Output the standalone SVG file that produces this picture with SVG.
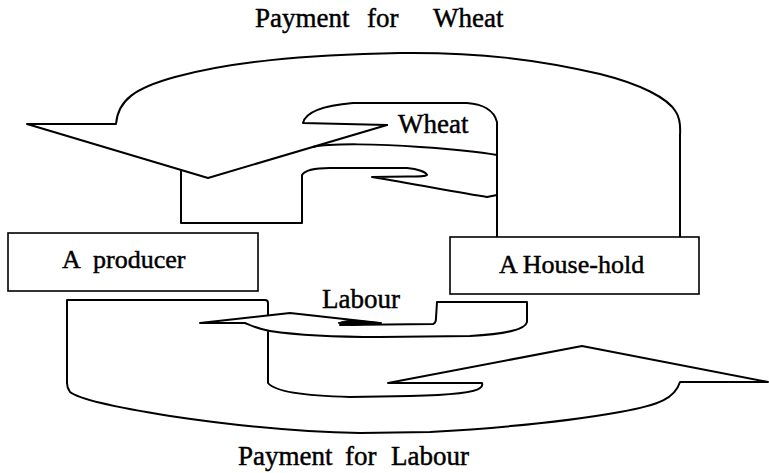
<svg xmlns="http://www.w3.org/2000/svg" width="769" height="473" viewBox="0 0 769 473">
<style>
.ln{fill:none;stroke:#000;stroke-width:2;stroke-linejoin:round;stroke-linecap:round}
.bx{fill:#fff;stroke:#000;stroke-width:1.6}
.t{font-family:"Liberation Serif","Times New Roman",serif;fill:#000;stroke:#000;stroke-width:0.45}
</style>
<rect width="769" height="473" fill="#fff"/>
<g id="connectors">
  <g id="payment-for-wheat">
    <path class="ln" d="M497,242 L680,242 L680,135 Q681,120 676,112 C668,98 640,84 600,74 C540,60 480,52 400,53 C300,55 230,62 175,77 C135,88 118,100 116,124 L27,124 L208,178 L387,125"/>
    <path class="ln" d="M313,147 C330,143 380,144 420,147 C450,149 480,152 497,155"/>
  </g>
  <g id="wheat">
    <path class="ln" d="M387,125 L303,123 C305,114 318,106 353,103 L467,103 C482,104 494,110 497,122 L497,242"/>
    <path class="ln" d="M181,170 L181,223 L302,223 L302,175 C305,170 315,168 330,168 L407,168 C418,169 426,172 427,175 C424,177 420,176 372,177 C420,185 460,193 487,197 L497,195"/>
  </g>
  <g id="labour">
    <path class="ln" d="M268,315 L268,303 Q268,300 265,300 L67,300 L67,383"/>
    <path class="ln" d="M380,323 L290,313 L200,323 L245,323 C250,325 258,329 270,331 C290,334 330,337 380,337 L470,336 C505,334 525,330 527,322 L527,302 L437,302 L436,318 Q436,323 433,324 L340,325"/>
    <path d="M338,323 Q348,319 362,321 L382,323 L352,325.5 Z" fill="#000" stroke="#000" stroke-width="1"/>
  </g>
  <g id="payment-for-labour">
    <path class="ln" d="M67,383 Q67,388 70,392 C80,400 120,408 170,416 C230,425 300,432 360,433 L430,432 C500,428 570,421 620,412 C660,405 675,398 680,382 L768,382 L582,346 L388,383 L482,383 Q483,386 480,388 C475,393 450,395 410,396 L350,397 C310,396 275,392 268,383 L268,332"/>
  </g>
</g>
<g id="producer">
  <rect class="bx" x="8" y="233" width="250" height="58"/>
  <text class="t" font-size="26" y="268"><tspan x="62">A</tspan><tspan x="93">producer</tspan></text>
</g>
<g id="household">
  <rect class="bx" x="450" y="237" width="249" height="57"/>
  <text class="t" font-size="26" x="499" y="273">A House-hold</text>
</g>
<g id="labels">
  <text class="t" font-size="27" y="27"><tspan x="255">Payment</tspan><tspan x="367">for</tspan><tspan x="433">Wheat</tspan></text>
  <text class="t" font-size="27" x="398" y="133">Wheat</text>
  <text class="t" font-size="27" x="322" y="308">Labour</text>
  <text class="t" font-size="27" y="465"><tspan x="238">Payment</tspan><tspan x="345">for</tspan><tspan x="391">Labour</tspan></text>
</g>
</svg>
